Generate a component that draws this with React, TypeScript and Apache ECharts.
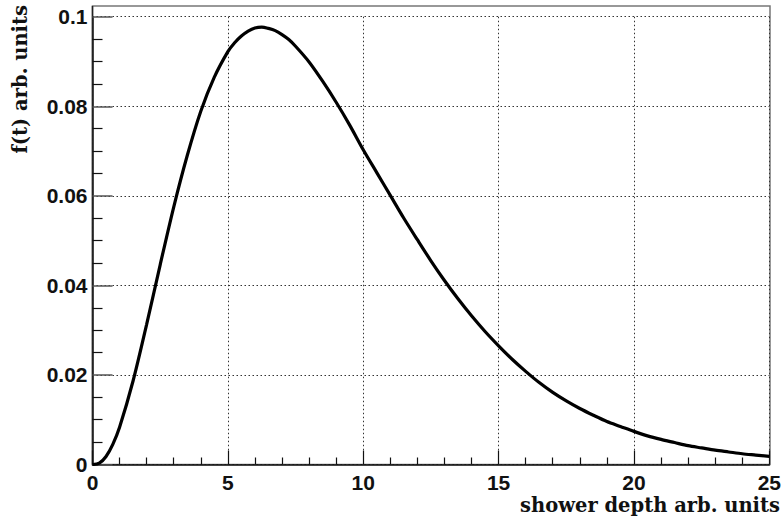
import React, { useEffect, useRef } from "react";
import * as echarts from "echarts";

const depth: number[] = [
  0, 0.25, 0.5, 0.75, 1, 1.5, 2, 2.5, 3, 3.5, 4, 4.5, 5, 5.25, 5.5, 5.75, 6, 6.25, 6.5, 6.75, 7, 7.25,
  7.5, 8, 8.5, 9, 9.5, 10, 10.5, 11, 11.5, 12, 12.5, 13, 13.5, 14, 14.5, 15, 15.5, 16, 16.5, 17, 17.5,
  18, 18.5, 19, 19.5, 20, 20.5, 21, 21.5, 22, 22.5, 23, 23.5, 24, 24.5, 25,
];
const fValues: number[] = [
  0, 0.0003, 0.0018, 0.0045, 0.0083, 0.0187, 0.0313, 0.0446, 0.0575, 0.069, 0.0789, 0.0865,
  0.0922, 0.0942, 0.0957, 0.0968, 0.0975, 0.0977, 0.0974, 0.0969, 0.096, 0.0949,
  0.0934, 0.0899, 0.0856, 0.0809, 0.0758, 0.0703, 0.0652, 0.0601, 0.055, 0.0502, 0.0455,
  0.0411, 0.037, 0.0332, 0.0297, 0.0265, 0.0235, 0.0208, 0.0183, 0.0161, 0.0142, 0.0125,
  0.011, 0.0096, 0.0085, 0.0074, 0.0064, 0.0056, 0.0049, 0.0042, 0.0037, 0.0032, 0.0028,
  0.0024, 0.0021, 0.0018,
];
const xTitle = "shower depth arb. units";
const yTitle = "f(t) arb. units";

const L = 92.5;
const R = 770;
const T = 6;
const B = 464.5;

export default function App() {
  const ref = useRef<HTMLDivElement>(null);
  useEffect(() => {
    if (!ref.current) return;
    const chart = echarts.init(ref.current, null, { renderer: "svg" });
    const tickFont = {
      fontFamily: "'Liberation Sans', Arial, sans-serif",
      fontWeight: "bold" as const,
      fontSize: 21,
      color: "#111",
    };
    chart.setOption({
      animation: false,
      backgroundColor: "#fff",
      grid: {
        left: L,
        right: 784 - R,
        top: B - (B - T) * (0.1 / 0.1024),
        bottom: 518 - B,
        containLabel: false,
      },
      xAxis: {
        type: "value",
        min: 0,
        max: 25,
        interval: 5,
        axisLine: { show: true, lineStyle: { color: "#111", width: 1.5 } },
        axisTick: { show: true, inside: true, length: 14, lineStyle: { color: "#111", width: 1.2 } },
        minorTick: { show: true, splitNumber: 5, length: 7, lineStyle: { color: "#111", width: 1.2 } },
        axisLabel: { ...tickFont, margin: 8, lineHeight: 20 },
        splitLine: { show: true, lineStyle: { color: "#333", type: [1.5, 2.5], width: 1 } },
      },
      yAxis: {
        type: "value",
        min: 0,
        max: 0.1,
        interval: 0.02,
        axisLine: { show: true, lineStyle: { color: "#222", width: 1.5 } },
        axisTick: { show: true, inside: true, length: 20, lineStyle: { color: "#555", width: 1.5 } },
        minorTick: { show: true, splitNumber: 4, length: 10, lineStyle: { color: "#111", width: 1.2 } },
        axisLabel: { ...tickFont, margin: 5 },
        splitLine: { show: true, lineStyle: { color: "#333", type: [1.5, 2.5], width: 1 } },
      },
      graphic: [
        {
          type: "rect",
          shape: { x: L, y: T, width: R - L, height: B - T },
          style: { fill: "none", stroke: "#777", lineWidth: 1.5 },
          silent: true,
          z: 0,
        },
        {
          type: "line",
          shape: { x1: L, y1: T, x2: L, y2: B },
          style: { stroke: "#222", lineWidth: 1.5 },
          silent: true,
        },
        {
          type: "text",
          x: 20,
          y: 5,
          rotation: Math.PI / 2,
          style: {
            text: yTitle,
            align: "right",
            verticalAlign: "middle",
            fontFamily: "'DejaVu Serif', serif",
            fontWeight: "bold",
            fontSize: 19.5,
            fill: "#111",
          },
        },
        {
          type: "text",
          x: 780,
          y: 505,
          style: {
            text: xTitle,
            align: "right",
            verticalAlign: "middle",
            fontFamily: "'DejaVu Serif', serif",
            fontWeight: "bold",
            fontSize: 19.5,
            lineHeight: 19,
            fill: "#111",
          },
        },
      ],
      series: [
        {
          type: "line",
          data: depth.map((t, i) => [t, fValues[i]]),
          showSymbol: false,
          smooth: 0.3,
          lineStyle: { color: "#000", width: 3.2 },
          z: 5,
        },
      ],
    });
    return () => chart.dispose();
  }, []);
  return <div ref={ref} style={{ width: 784, height: 518, position: "absolute", left: 0, top: 0 }} />;
}
